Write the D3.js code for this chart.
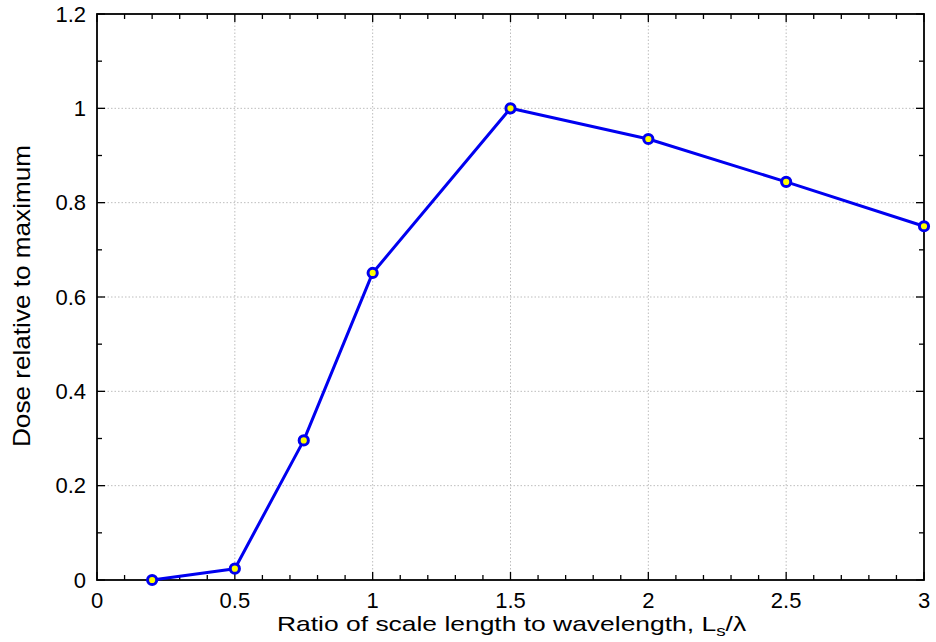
<!DOCTYPE html>
<html><head><meta charset="utf-8">
<script src="https://cdn.jsdelivr.net/npm/d3@7"></script>
<style>body{margin:0;background:#fff}svg{display:block}text{font-family:"Liberation Sans",Arial,sans-serif;fill:#000}</style>
</head><body>
<script>
const xValues = [0.2, 0.5, 0.75, 1, 1.5, 2, 2.5, 3];
const doseValues = [0, 0.024, 0.296, 0.651, 1.0, 0.935, 0.844, 0.750];
const xTicks = [0, 0.5, 1, 1.5, 2, 2.5, 3];
const yTicks = [0, 0.2, 0.4, 0.6, 0.8, 1, 1.2];
const xMinor = d3.range(0, 31).map(i => i / 10);
const yMinor = d3.range(0, 13).map(i => i / 10);

const W = 936, H = 642;
const m = {left: 97, right: 12, top: 14, bottom: 62};
const svg = d3.select("body").append("svg").attr("width", W).attr("height", H);
const x = d3.scaleLinear().domain([0, 3]).range([m.left, W - m.right]);
const y = d3.scaleLinear().domain([0, 1.2]).range([H - m.bottom, m.top]);
const x0 = x(0), x1 = x(3), y0 = y(0), y1 = y(1.2);

// grid
const g = svg.append("g").attr("stroke", "#bdbdbd").attr("stroke-width", 1).attr("stroke-dasharray", "1.5,2");
xTicks.slice(1, -1).forEach(t => g.append("line").attr("x1", x(t)).attr("x2", x(t)).attr("y1", y0).attr("y2", y1));
yTicks.slice(1, -1).forEach(t => g.append("line").attr("x1", x0).attr("x2", x1).attr("y1", y(t)).attr("y2", y(t)));

// ticks (inward) on all sides
const tk = svg.append("g").attr("stroke", "#000").attr("stroke-width", 1.3);
const isMajor = (v, arr) => arr.some(a => Math.abs(a - v) < 1e-9);
xMinor.forEach(t => {
  const L = isMajor(t, xTicks) ? 8 : 5;
  tk.append("line").attr("x1", x(t)).attr("x2", x(t)).attr("y1", y0).attr("y2", y0 - L);
  tk.append("line").attr("x1", x(t)).attr("x2", x(t)).attr("y1", y1).attr("y2", y1 + L);
});
yMinor.forEach(t => {
  const L = isMajor(t, yTicks) ? 8 : 5;
  tk.append("line").attr("x1", x0).attr("x2", x0 + L).attr("y1", y(t)).attr("y2", y(t));
  tk.append("line").attr("x1", x1).attr("x2", x1 - L).attr("y1", y(t)).attr("y2", y(t));
});

// frame
svg.append("rect").attr("x", x0).attr("y", y1).attr("width", x1 - x0).attr("height", y0 - y1)
  .attr("fill", "none").attr("stroke", "#000").attr("stroke-width", 1.8);

// tick labels
const fmt = d => d3.format("")(d);
svg.append("g").selectAll("text").data(xTicks).join("text")
  .attr("x", d => x(d)).attr("y", y0 + 28).attr("text-anchor", "middle").attr("font-size", 22).text(fmt);
svg.append("g").selectAll("text").data(yTicks).join("text")
  .attr("x", x0 - 11).attr("y", d => y(d) + 7.5).attr("text-anchor", "end").attr("font-size", 22).text(fmt);

// axis titles
const xt = svg.append("text").attr("x", 0).attr("y", 0).attr("font-size", 21);
xt.append("tspan").text("Ratio of scale length to wavelength, L");
xt.append("tspan").attr("font-size", 15).attr("dy", 5).text("s");
xt.append("tspan").attr("dy", -5).text("/λ");
const bb = xt.node().getBBox();
const sx = 470 / bb.width;
xt.attr("transform", `translate(${277 - bb.x * sx},631) scale(${sx},1)`);

svg.append("text").attr("transform", `translate(30,${(447 + 145) / 2}) rotate(-90)`)
  .attr("text-anchor", "middle").attr("font-size", 24)
  .attr("textLength", 302).attr("lengthAdjust", "spacingAndGlyphs").text("Dose relative to maximum");

// line + markers
const data = xValues.map((v, i) => [v, doseValues[i]]);
svg.append("path").datum(data).attr("fill", "none").attr("stroke", "#0000f0").attr("stroke-width", 3)
  .attr("stroke-linejoin", "round").attr("d", d3.line().x(d => x(d[0])).y(d => y(d[1])));
svg.append("g").selectAll("circle").data(data).join("circle")
  .attr("cx", d => x(d[0])).attr("cy", d => y(d[1])).attr("r", 4.6)
  .attr("fill", "#ffff00").attr("stroke", "#0000f0").attr("stroke-width", 3);
</script>
</body></html>
